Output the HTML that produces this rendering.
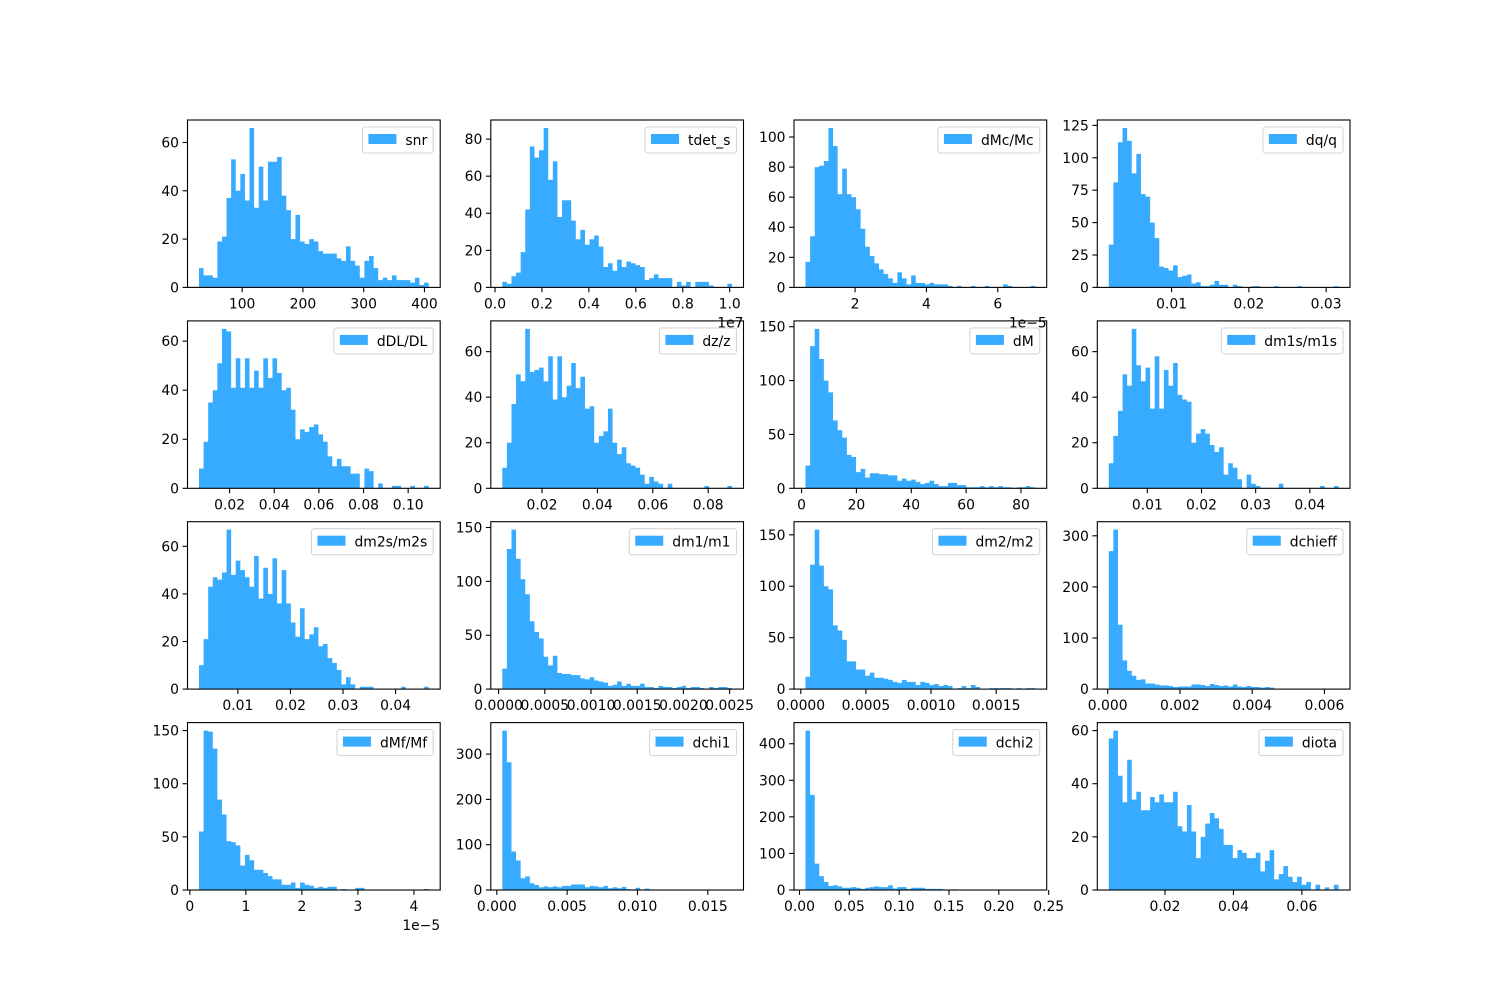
<!DOCTYPE html>
<html><head><meta charset="utf-8"><style>
html,body{margin:0;padding:0;background:#fff;}
svg{display:block;font-family:"DejaVu Sans","Liberation Sans",sans-serif;font-size:13.9px;}
</style></head><body>
<svg id="s" width="1500" height="1000" xmlns="http://www.w3.org/2000/svg">
<rect width="1500" height="1000" fill="#fff"/>
<g class="p"><g class="xl"><text>100</text><text>200</text><text>300</text><text>400</text></g><g class="yl"><text>0</text><text>20</text><text>40</text><text>60</text></g><text class="lg">snr</text></g>
<g class="p"><g class="xl"><text>0.0</text><text>0.2</text><text>0.4</text><text>0.6</text><text>0.8</text><text>1.0</text></g><g class="yl"><text>0</text><text>20</text><text>40</text><text>60</text><text>80</text></g><text class="lg">tdet_s</text><text class="off">1e7</text></g>
<g class="p"><g class="xl"><text>2</text><text>4</text><text>6</text></g><g class="yl"><text>0</text><text>20</text><text>40</text><text>60</text><text>80</text><text>100</text></g><text class="lg">dMc/Mc</text><text class="off">1e−5</text></g>
<g class="p"><g class="xl"><text>0.01</text><text>0.02</text><text>0.03</text></g><g class="yl"><text>0</text><text>25</text><text>50</text><text>75</text><text>100</text><text>125</text></g><text class="lg">dq/q</text></g>
<g class="p"><g class="xl"><text>0.02</text><text>0.04</text><text>0.06</text><text>0.08</text><text>0.10</text></g><g class="yl"><text>0</text><text>20</text><text>40</text><text>60</text></g><text class="lg">dDL/DL</text></g>
<g class="p"><g class="xl"><text>0.02</text><text>0.04</text><text>0.06</text><text>0.08</text></g><g class="yl"><text>0</text><text>20</text><text>40</text><text>60</text></g><text class="lg">dz/z</text></g>
<g class="p"><g class="xl"><text>0</text><text>20</text><text>40</text><text>60</text><text>80</text></g><g class="yl"><text>0</text><text>50</text><text>100</text><text>150</text></g><text class="lg">dM</text></g>
<g class="p"><g class="xl"><text>0.01</text><text>0.02</text><text>0.03</text><text>0.04</text></g><g class="yl"><text>0</text><text>20</text><text>40</text><text>60</text></g><text class="lg">dm1s/m1s</text></g>
<g class="p"><g class="xl"><text>0.01</text><text>0.02</text><text>0.03</text><text>0.04</text></g><g class="yl"><text>0</text><text>20</text><text>40</text><text>60</text></g><text class="lg">dm2s/m2s</text></g>
<g class="p"><g class="xl"><text>0.0000</text><text>0.0005</text><text>0.0010</text><text>0.0015</text><text>0.0020</text><text>0.0025</text></g><g class="yl"><text>0</text><text>50</text><text>100</text><text>150</text></g><text class="lg">dm1/m1</text></g>
<g class="p"><g class="xl"><text>0.0000</text><text>0.0005</text><text>0.0010</text><text>0.0015</text></g><g class="yl"><text>0</text><text>50</text><text>100</text><text>150</text></g><text class="lg">dm2/m2</text></g>
<g class="p"><g class="xl"><text>0.000</text><text>0.002</text><text>0.004</text><text>0.006</text></g><g class="yl"><text>0</text><text>100</text><text>200</text><text>300</text></g><text class="lg">dchieff</text></g>
<g class="p"><g class="xl"><text>0</text><text>1</text><text>2</text><text>3</text><text>4</text></g><g class="yl"><text>0</text><text>50</text><text>100</text><text>150</text></g><text class="lg">dMf/Mf</text><text class="off">1e−5</text></g>
<g class="p"><g class="xl"><text>0.000</text><text>0.005</text><text>0.010</text><text>0.015</text></g><g class="yl"><text>0</text><text>100</text><text>200</text><text>300</text></g><text class="lg">dchi1</text></g>
<g class="p"><g class="xl"><text>0.00</text><text>0.05</text><text>0.10</text><text>0.15</text><text>0.20</text><text>0.25</text></g><g class="yl"><text>0</text><text>100</text><text>200</text><text>300</text><text>400</text></g><text class="lg">dchi2</text></g>
<g class="p"><g class="xl"><text>0.02</text><text>0.04</text><text>0.06</text></g><g class="yl"><text>0</text><text>20</text><text>40</text><text>60</text></g><text class="lg">diota</text></g>
</svg>
<script>
var P=[
[29,407,[8,5,5,4,19,21,37,53,40,47,36,66,33,50,36,52,52,54,38,32,20,30,19,18,20,19,15,14,14,14,12,11,17,11,9,4,11,13,8,3,4,3,5,3,3,3,2,4,1,2]],
[0.031,1.01,[3,2,6,8,19,42,76,70,74,86,58,68,38,47,47,36,26,31,23,26,28,22,11,13,9,15,11,14,13,12,11,4,5,7,5,5,5,0,3,1,3,0,3,3,3,1,0,0,0,2]],
[0.61,7.05,[17,34,80,81,84,106,94,62,79,62,60,52,39,27,21,16,12,9,6,3,10,6,2,8,3,3,2,3,2,2,2,1,0,1,0,0,1,0,0,1,0,0,0,2,1,0,0,0,0,1]],
[0.00187,0.0316,[33,81,112,123,113,88,103,72,70,50,38,16,15,13,17,8,9,10,3,4,1,1,2,5,2,2,0,2,1,0,0,1,1,0,0,0,1,0,0,0,0,1,0,0,0,0,0,0,0,1]],
[0.00628,0.1092,[8,19,35,40,51,65,64,41,53,41,53,41,48,41,53,45,53,47,40,41,32,20,24,23,25,26,22,19,13,9,12,9,9,6,6,0,8,7,0,2,0,0,1,1,0,0,1,0,0,1]],
[0.00567,0.0886,[9,20,37,50,47,70,51,52,53,47,58,39,58,40,45,55,44,49,35,36,20,23,25,35,20,15,18,11,10,9,6,2,5,3,2,0,2,0,0,0,0,0,0,0,1,0,0,0,0,1]],
[1.42,85.2,[21,132,148,120,100,89,63,54,47,31,29,15,18,10,14,14,13,13,12,12,7,9,7,8,6,4,5,7,4,2,2,5,5,3,3,1,1,1,2,1,2,1,2,1,1,0,1,1,2,1]],
[0.00288,0.0453,[11,23,34,50,45,70,54,47,53,35,58,35,52,45,55,41,39,38,20,24,26,24,19,16,18,6,11,9,4,0,6,2,1,0,0,0,0,2,0,0,0,0,0,0,0,0,1,0,0,1]],
[0.0026,0.0463,[10,21,43,47,46,49,67,48,54,50,47,43,56,38,51,40,55,36,50,36,28,22,34,21,23,26,18,19,13,11,8,2,5,2,0,1,1,1,0,0,0,0,0,0,1,0,0,0,0,1]],
[0.00004,0.002526,[19,130,148,121,102,88,63,53,47,30,22,31,15,14,14,13,13,10,9,11,8,7,6,3,4,7,3,5,3,3,5,2,2,1,3,2,2,1,2,3,1,2,2,1,0,2,1,2,2,1]],
[0.000036,0.0018,[12,121,155,120,100,97,62,57,48,27,27,19,19,13,16,11,11,10,9,7,6,9,7,7,4,7,6,4,5,3,4,3,0,1,3,1,4,2,0,0,1,1,1,1,1,0,1,0,1,1]],
[0.00003,0.00639,[270,312,126,56,36,26,18,19,11,11,9,7,7,6,4,5,5,5,9,9,8,6,10,8,6,7,5,9,5,4,6,4,4,3,4,3,0,0,0,0,0,0,0,0,0,0,0,0,0,1]],
[0.163,4.264,[55,150,149,133,85,71,46,45,42,23,33,28,19,19,16,13,10,10,5,5,7,2,7,5,4,2,3,2,3,3,0,1,0,0,2,2,0,0,0,0,0,0,0,0,0,0,0,0,0,1]],
[0.00039,0.01672,[352,282,85,65,26,30,15,11,6,8,6,8,6,9,9,12,12,12,6,9,8,6,9,4,6,4,7,2,0,5,0,3,0,0,0,0,0,0,0,0,0,0,0,0,0,0,0,0,0,1]],
[0.006,0.2365,[436,260,72,38,22,11,13,10,6,6,8,6,3,6,8,10,8,8,13,4,8,8,3,6,6,6,3,3,3,3,0,0,2,0,0,0,0,0,0,0,0,0,0,0,0,0,0,0,0,1]],
[0.00357,0.0707,[57,60,43,33,49,34,37,30,30,35,33,36,33,33,37,24,22,32,22,12,20,25,29,27,23,17,17,12,15,14,12,12,14,7,11,15,4,6,9,5,3,5,2,3,0,2,0,1,0,2]]
];
var NS="http://www.w3.org/2000/svg";
var Ls=[187.5,490.8,794.0,1097.3],Ts=[120,320.9,521.7,722.6],W=252.7,H=167.4;
function el(t,a,p){var e=document.createElementNS(NS,t);for(var k in a)e.setAttribute(k,a[k]);(p).appendChild(e);return e;}
var gs=document.querySelectorAll("g.p");
for(var i=0;i<16;i++){
 var g=gs[i],L=Ls[i%4],T=Ts[Math.floor(i/4)],mn=P[i][0],mx=P[i][1],h=P[i][2];
 var a=mn-0.05*(mx-mn),b=mx+0.05*(mx-mn),ym=Math.max.apply(null,h)*1.05;
 var px=function(v){return L+(v-a)/(b-a)*W;},py=function(c){return T+H-c/ym*H;};
 var bg=document.createElementNS(NS,"g");g.insertBefore(bg,g.firstChild);
 var bw=(mx-mn)/50,d="";
 for(var j=0;j<50;j++){if(h[j]<=0)continue;var x0=px(mn+j*bw),x1=px(mn+(j+1)*bw),y=py(h[j]);
  d+="M"+x0.toFixed(2)+" "+(T+H)+"V"+y.toFixed(2)+"H"+x1.toFixed(2)+"V"+(T+H)+"Z";}
 el("path",{d:d,fill:"#36abff"},bg);
 el("rect",{x:L,y:T,width:W,height:H,fill:"none",stroke:"#000","stroke-width":1.1},bg);
 var xl=g.querySelectorAll(".xl text");
 for(var j=0;j<xl.length;j++){var v=parseFloat(xl[j].textContent),x=px(v);
  el("line",{x1:x,x2:x,y1:T+H,y2:T+H+4.9,stroke:"#000","stroke-width":1.1},bg);
  xl[j].setAttribute("x",x);xl[j].setAttribute("y",T+H+21);xl[j].setAttribute("text-anchor","middle");}
 var yl=g.querySelectorAll(".yl text");
 for(var j=0;j<yl.length;j++){var v=parseFloat(yl[j].textContent),y=py(v);
  el("line",{x1:L-4.9,x2:L,y1:y,y2:y,stroke:"#000","stroke-width":1.1},bg);
  yl[j].setAttribute("x",L-8.5);yl[j].setAttribute("y",y+5);yl[j].setAttribute("text-anchor","end");}
 var off=g.querySelector(".off");
 if(off){off.setAttribute("x",L+W);off.setAttribute("y",T+H+40);off.setAttribute("text-anchor","end");}
 var lg=g.querySelector(".lg"),tw=lg.getComputedTextLength();
 var bwid=tw+49,bx=L+W-7-bwid,by=T+7;
 var lb=document.createElementNS(NS,"g");g.insertBefore(lb,lg);
 el("rect",{x:bx,y:by,width:bwid,height:26,rx:2.5,fill:"#fff","fill-opacity":0.8,stroke:"#d6d6d6","stroke-width":1.1},lb);
 el("rect",{x:bx+6,y:by+7,width:28,height:10,fill:"#36abff"},lb);
 lg.setAttribute("x",bx+43);lg.setAttribute("y",by+18);
}
</script>
</body></html>
